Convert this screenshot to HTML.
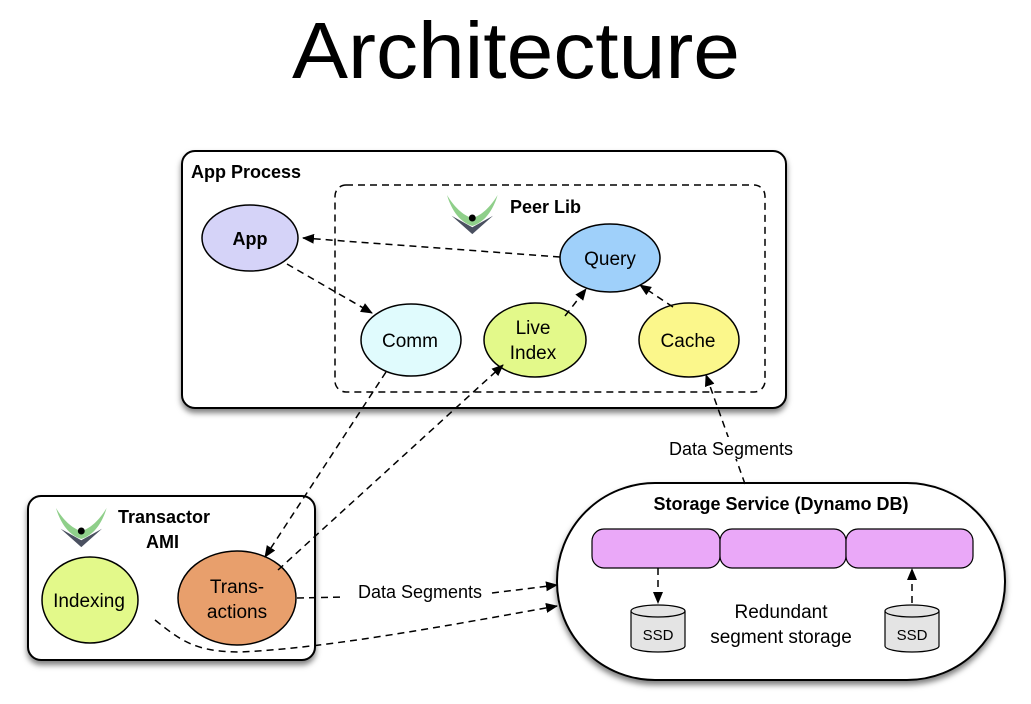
<!DOCTYPE html>
<html><head><meta charset="utf-8"><style>
html,body{margin:0;padding:0;background:#fff;}
svg{display:block;font-family:"Liberation Sans",Arial,sans-serif;}
</style></head><body>
<svg width="1031" height="704" viewBox="0 0 1031 704" xmlns="http://www.w3.org/2000/svg">
<defs>
<marker id="ar" markerWidth="12" markerHeight="10" refX="11" refY="5" orient="auto" markerUnits="userSpaceOnUse">
<path d="M0,0 L12,5 L0,10 Z" fill="#000"/></marker>
<filter id="sh" x="-10%" y="-10%" width="120%" height="130%"><feDropShadow dx="0" dy="4" stdDeviation="3" flood-color="#000" flood-opacity="0.5"/></filter>
<g id="logo">
<path d="M0,0 C6,10 14,18 22,20 C30,18 38,10 44,0 C40,14 32,24 22,27 C12,24 4,14 0,0 Z" fill="#8fcf8a"/>
<path d="M4,18 L22,34 L40,18 L22,28 Z" fill="#4a5060"/>
<circle cx="22" cy="20" r="3" fill="#000"/>
</g>
</defs>
<text x="516" y="78" font-size="80" text-anchor="middle" textLength="448" lengthAdjust="spacingAndGlyphs" fill="#000">Architecture</text>

<rect x="182" y="151" width="604" height="257" rx="13" fill="#fff" stroke="#000" stroke-width="2" filter="url(#sh)"/>
<text x="191" y="178" font-size="18" font-weight="bold">App Process</text>
<rect x="335" y="185" width="430" height="207" rx="11" fill="none" stroke="#000" stroke-width="1.5" stroke-dasharray="7,5"/>
<use href="#logo" transform="translate(447,195) scale(1.15)"/>
<text x="510" y="213" font-size="18" font-weight="bold">Peer Lib</text>

<ellipse cx="250" cy="238" rx="48" ry="33" fill="#d5d3f8" stroke="#000" stroke-width="1.5"/>
<text x="250" y="245" font-size="18" font-weight="bold" text-anchor="middle">App</text>
<ellipse cx="610" cy="258" rx="50" ry="34" fill="#9fd0fa" stroke="#000" stroke-width="1.5"/>
<text x="610" y="265" font-size="19" text-anchor="middle">Query</text>
<ellipse cx="411" cy="340" rx="50" ry="36" fill="#e0fbfd" stroke="#000" stroke-width="1.5"/>
<text x="410" y="347" font-size="19" text-anchor="middle">Comm</text>
<ellipse cx="535" cy="340" rx="51" ry="37" fill="#e3f98a" stroke="#000" stroke-width="1.5"/>
<text x="533" y="334" font-size="19" text-anchor="middle">Live</text>
<text x="533" y="359" font-size="19" text-anchor="middle">Index</text>
<ellipse cx="689" cy="340" rx="50" ry="37" fill="#fbf78b" stroke="#000" stroke-width="1.5"/>
<text x="688" y="347" font-size="19" text-anchor="middle">Cache</text>

<rect x="28" y="496" width="287" height="164" rx="13" fill="#fff" stroke="#000" stroke-width="2" filter="url(#sh)"/>
<use href="#logo" transform="translate(56,508) scale(1.15)"/>
<text x="118" y="523" font-size="18" font-weight="bold">Transactor</text>
<text x="146" y="548" font-size="18" font-weight="bold">AMI</text>
<ellipse cx="90" cy="600" rx="48" ry="43" fill="#e3f98a" stroke="#000" stroke-width="1.5"/>
<text x="89" y="607" font-size="19" text-anchor="middle">Indexing</text>
<ellipse cx="237" cy="598" rx="59" ry="47" fill="#e89f6c" stroke="#000" stroke-width="1.5"/>
<text x="237" y="593" font-size="19" text-anchor="middle">Trans-</text>
<text x="237" y="618" font-size="19" text-anchor="middle">actions</text>

<rect x="557" y="483" width="448" height="197" rx="98" fill="#fff" stroke="#000" stroke-width="2" filter="url(#sh)"/>
<text x="781" y="510" font-size="18" font-weight="bold" text-anchor="middle">Storage Service (Dynamo DB)</text>
<rect x="592" y="529" width="128" height="39" rx="12" fill="#eaa8f8" stroke="#000" stroke-width="1.2"/>
<rect x="720" y="529" width="126" height="39" rx="12" fill="#eaa8f8" stroke="#000" stroke-width="1.2"/>
<rect x="846" y="529" width="127" height="39" rx="12" fill="#eaa8f8" stroke="#000" stroke-width="1.2"/>
<g stroke="#000" stroke-width="1.2" fill="#e4e4e4">
<path d="M631,611 V646 A27,6 0 0 0 685,646 V611"/><ellipse cx="658" cy="611" rx="27" ry="6"/>
<path d="M885,611 V646 A27,6 0 0 0 939,646 V611"/><ellipse cx="912" cy="611" rx="27" ry="6"/>
</g>
<text x="658" y="640" font-size="15" text-anchor="middle">SSD</text>
<text x="912" y="640" font-size="15" text-anchor="middle">SSD</text>
<text x="781" y="618" font-size="19" text-anchor="middle">Redundant</text>
<text x="781" y="643" font-size="19" text-anchor="middle">segment storage</text>

<g stroke="#000" stroke-width="1.5" fill="none" stroke-dasharray="7,5">
<path d="M560,257 L303,238" marker-end="url(#ar)"/>
<path d="M287,264 L372,313" marker-end="url(#ar)"/>
<path d="M386,372 L265,557" marker-end="url(#ar)"/>
<path d="M278,570 L503,365" marker-end="url(#ar)"/>
<path d="M565,316 L586,289" marker-end="url(#ar)"/>
<path d="M673,307 L640,285" marker-end="url(#ar)"/>
<path d="M745,484 L706,375" marker-end="url(#ar)"/>
<path d="M297,598 L345,597 M492,593 L557,585" marker-end="url(#ar)"/>
<path d="M155,620 C180,640 195,652 240,652 C330,648 450,625 557,606" marker-end="url(#ar)"/>
<path d="M658,568 L658,603" marker-end="url(#ar)"/>
<path d="M912,603 L912,569" marker-end="url(#ar)"/>
</g>
<rect x="655" y="437" width="150" height="22" fill="#fff"/>
<text x="731" y="455" font-size="18" text-anchor="middle">Data Segments</text>
<text x="420" y="598" font-size="18" text-anchor="middle">Data Segments</text>
</svg>
</body></html>
